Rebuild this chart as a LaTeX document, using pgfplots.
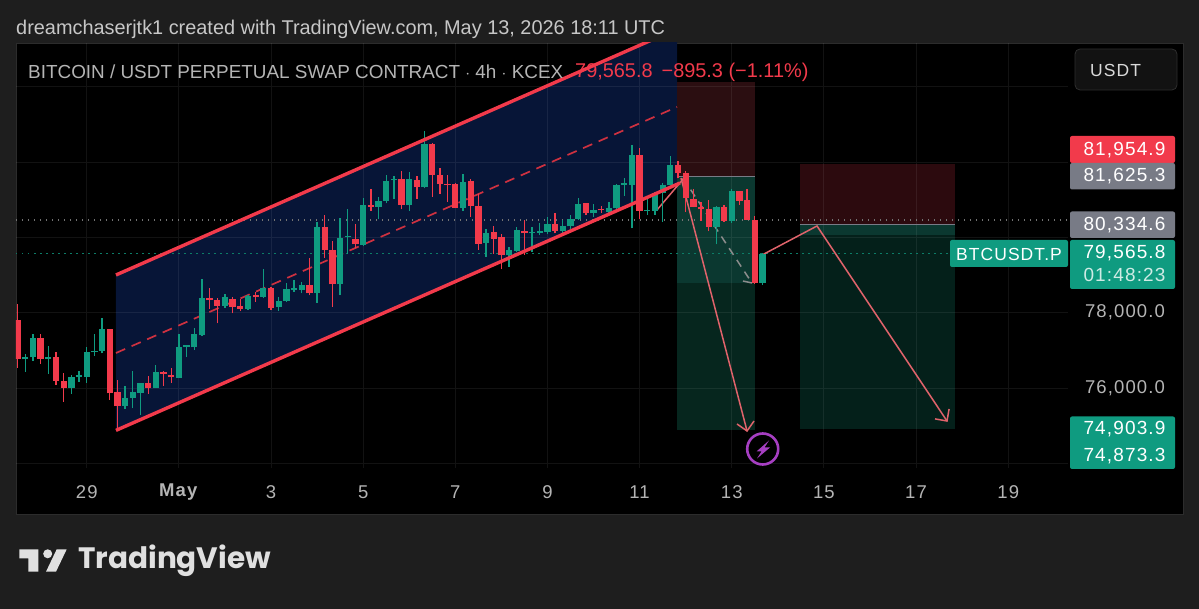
\documentclass[border=0pt]{standalone}
\usepackage{pgfplots}
\usepackage{pgfplotstable}
\usepackage{fontspec}
\pgfplotsset{compat=1.18}
\setmainfont{Liberation Sans}
\newfontfamily\lab[LetterSpace=6]{Liberation Sans}
\newfontfamily\logofont{Poppins}
\definecolor{bg}{HTML}{1E1E1E}
\definecolor{frame}{HTML}{2C2C2C}
\definecolor{gup}{HTML}{0F9B80}
\definecolor{rdn}{HTML}{F23A4B}
\definecolor{chan}{HTML}{071537}
\definecolor{redbox}{HTML}{2B0E11}
\definecolor{redboxb}{HTML}{2C0A0E}
\definecolor{grnhi}{HTML}{0B3830}
\definecolor{grnlo}{HTML}{06261E}
\definecolor{grnlob}{HTML}{04201A}
\definecolor{salmon}{HTML}{E0636B}
\definecolor{plabel}{HTML}{787B86}
\definecolor{txt}{HTML}{B4B4B4}
\definecolor{purp}{HTML}{A63FC2}
\pgfplotstableread{
k l b t h
1 76425 76761 76832 76903
2 76726 76814 77337 77425
4 76372 76770 76823 77107
7 75840 75999 76292 76336
8 76159 76283 76336 76451
9 76141 76292 76956 77098
10 76850 76947 76991 77434
11 76921 76991 77558 77868
14 75442 75521 75734 76053
15 75459 75734 75884 76442
16 75282 75875 76123 76141
18 75999 76008 76434 76611
21 76265 76265 77080 77425
22 76832 77080 77133 77142
23 77009 77080 77434 77585
24 77381 77408 78391 78887
27 78125 78178 78409 78497
30 78072 78099 78453 78471
32 78382 78426 78665 79153
34 78054 78161 78320 78409
35 78293 78311 78621 78798
36 78559 78603 78648 78869
37 78515 78603 78727 78825
39 78258 78514 80286 80419
42 78470 78754 79985 80525
43 79559 80002 80038 80755
45 79772 79807 80853 81047
47 80481 80817 80968 81065
48 80906 80968 81490 81659
49 81012 81517 81561 81632
51 80711 80853 81543 81747
53 81304 81331 82491 82828
58 80711 80791 81481 81685
61 79489 79861 80109 80233
64 79223 79542 79666 79745
65 79622 79648 80188 80286
67 79622 80109 80144 80286
68 80064 80126 80170 80374
69 80091 80144 80347 80533
71 80091 80170 80312 80463
72 80215 80294 80489 80595
73 80463 80480 80897 81047
75 80551 80640 80737 80879
77 80640 80684 80781 80950
78 80755 80773 81393 81410
79 81109 81393 81437 81570
80 80241 81393 82190 82455
82 80604 80693 80728 81012
83 80604 80702 81171 81207
84 80418 81171 81401 81437
85 81393 81393 81924 82163
91 79816 80285 80799 80835
93 80392 80445 81233 81277
97 78735 78780 79566 79577
}\upc
\pgfplotstableread{
k l b t h
0 76531 76761 77806 78231
3 76637 76770 77337 77443
5 76088 76185 76832 76956
6 75627 76008 76185 76389
12 75681 75858 77558 77558
13 74928 75512 75884 76212
17 75840 76008 76123 76318
19 76053 76380 76434 76460
20 76141 76283 76345 76522
25 78107 78329 78391 78648
26 77718 78178 78338 78382
28 77983 78152 78373 78409
29 78054 78099 78178 78355
31 78285 78409 78471 78559
33 78072 78125 78665 78692
38 78461 78514 78727 79444
40 79462 79666 80286 80605
41 78160 78754 79666 79905
44 79719 79816 79967 80357
46 80711 80817 80861 81287
50 80746 80861 81552 81756
52 81030 81331 81535 81632
54 81083 81659 82491 82518
55 81154 81428 81650 81853
56 80950 81402 81428 81659
57 80791 80791 81411 81437
59 80543 80835 81490 81561
60 79666 79825 80835 81154
62 79559 79958 80135 80303
63 79152 79542 80002 80091
66 79533 80109 80179 80472
70 80108 80179 80347 80657
74 80595 80640 80905 80923
76 80640 80719 80764 80835
81 80489 80702 82190 82367
86 81570 81703 81924 82039
87 80675 81038 81703 81765
88 80799 80817 81030 81277
89 80445 80746 80817 80950
90 80161 80285 80746 80994
92 80418 80445 80817 80852
94 80870 80976 81224 81242
95 80463 80463 80985 81277
96 78762 78780 80454 80569
}\dnc
\newcommand{\T}[4]{\node[#3,inner sep=0pt] at ({#1pt},{(609-#2)*1pt}) {#4};}
\newcommand{\R}[6]{\fill[#5,rounded corners=#6] ({#1pt},{(609-#2)*1pt}) rectangle ({#3pt},{(609-#4)*1pt});}
\begin{document}
\begin{tikzpicture}
\fill[bg] (0,0) rectangle (1199pt,609pt);
\begin{axis}[
  at={(16pt,95pt)}, anchor=south west,
  width=1167pt, height=471pt, scale only axis,
  xmin=-0.21, xmax=151.76, ymin=72651, ymax=85166,
  axis background/.style={fill=black},
  axis line style={draw=frame, line width=0.8pt},
  tick style={draw=none},
  xtick={9,21,33,45,57,69,81,93,105,117,129},
  xticklabels={29,\textbf{May},3,5,7,9,11,13,15,17,19},
  xticklabel style={anchor=center, yshift=22pt, font=\fontsize{18.5}{20}\lab, text=txt},
  ytick={76000,78000},
  yticklabel pos=right,
  yticklabel style={anchor=center, xshift=-58pt, font=\fontsize{18.5}{20}\lab, text=txt,
    /pgf/number format/.cd, fixed, fixed zerofill, precision=1, 1000 sep={,}, assume math mode=true},
  scaled y ticks=false,
  unbounded coords=jump,
]
% channel and position boxes
\addplot[draw=none, fill=chan, forget plot] coordinates {(12.81,79002)(85.87,85540)(85.87,81393)(12.81,74873)} -- cycle;
\addplot[draw=none, fill=redbox, forget plot] coordinates {(85.87,84130)(96.03,84130)(96.03,81625.3)(85.87,81625.3)} -- cycle;
\addplot[draw=none, fill=grnhi, forget plot] coordinates {(85.87,81625.3)(96.03,81625.3)(96.03,78789)(85.87,78789)} -- cycle;
\addplot[draw=none, fill=grnlo, forget plot] coordinates {(85.87,78789)(96.03,78789)(96.03,74873.3)(85.87,74873.3)} -- cycle;
\addplot[draw=none, fill=redboxb, forget plot] coordinates {(101.9,81954.9)(122.07,81954.9)(122.07,80334.6)(101.9,80334.6)} -- cycle;
\addplot[draw=none, fill=grnhi, forget plot] coordinates {(101.9,80334.6)(122.07,80334.6)(122.07,80064)(101.9,80064)} -- cycle;
\addplot[draw=none, fill=grnlob, forget plot] coordinates {(101.9,80064)(122.07,80064)(122.07,74903.9)(101.9,74903.9)} -- cycle;
% grid
\addplot[white, opacity=0.07, line width=0.9pt, forget plot] coordinates {
(-0.21,74000)(136.8,74000)(nan,nan)(-0.21,76000)(136.8,76000)(nan,nan)(-0.21,78000)(136.8,78000)(nan,nan)
(-0.21,80000)(136.8,80000)(nan,nan)(-0.21,82000)(136.8,82000)(nan,nan)(-0.21,84000)(136.8,84000)(nan,nan)
(9,85166)(9,73874)(nan,nan)(21,85166)(21,73874)(nan,nan)(33,85166)(33,73874)(nan,nan)(45,85166)(45,73874)(nan,nan)
(57,85166)(57,73874)(nan,nan)(69,85166)(69,73874)(nan,nan)(81,85166)(81,73874)(nan,nan)(93,85166)(93,73874)(nan,nan)
(105,85166)(105,73874)(nan,nan)(117,85166)(117,73874)(nan,nan)(129,85166)(129,73874)};
% box lines
\addplot[plabel, line width=1.3pt, forget plot] coordinates {(85.87,81625.3)(96.03,81625.3)};
\addplot[plabel, line width=1.3pt, forget plot] coordinates {(101.9,80334.6)(122.07,80334.6)};
% dotted price lines
\addplot[white!45!black, line width=1.3pt, dash pattern=on 1.4pt off 4.6pt, forget plot] coordinates {(-0.21,80463)(136.8,80463)};
\addplot[gup!80!black, line width=1.3pt, dash pattern=on 1.5pt off 4.5pt, forget plot] coordinates {(-0.21,79565.8)(136.8,79565.8)};
% channel mid line
\addplot[rdn!85!black, line width=1.7pt, dash pattern=on 10pt off 7pt, forget plot] coordinates {(12.81,76929)(85.87,83466)};
% thin drawings
\addplot[salmon, line width=1.5pt, forget plot] coordinates {(86.39,81579)(94.99,74857)};
\addplot[salmon, line width=1.5pt, forget plot] coordinates {(93.68,75043)(94.99,74857)(95.9,75122)};
\addplot[salmon, line width=1.5pt, forget plot] coordinates {(83.26,80729)(86.9,81606)};
\addplot[salmon, line width=1.5pt, forget plot] coordinates {(96.95,79533)(104.1,80304)(121.03,75122)};
\addplot[salmon, line width=1.5pt, forget plot] coordinates {(119.47,75178)(121.03,75122)(121.3,75442)};
\addplot[white!55!black, line width=1.5pt, dash pattern=on 8pt off 6pt, forget plot] coordinates {(86.65,81579)(95.63,78789)};
\addplot[white!55!black, line width=1.5pt, forget plot] coordinates {(94.46,78842)(95.63,78789)};
% candles
\addplot[draw=none, mark=none, forget plot, error bars/.cd, y dir=plus, y explicit, error mark=none,
  error bar style={gup, line width=1.3pt}] table[x=k, y=l, y error expr=\thisrow{h}-\thisrow{l}] {\upc};
\addplot[draw=none, mark=none, forget plot, error bars/.cd, y dir=plus, y explicit, error mark=none,
  error bar style={gup, line width=6.3pt}] table[x=k, y=b, y error expr=\thisrow{t}-\thisrow{b}] {\upc};
\addplot[draw=none, mark=none, forget plot, error bars/.cd, y dir=plus, y explicit, error mark=none,
  error bar style={rdn, line width=1.3pt}] table[x=k, y=l, y error expr=\thisrow{h}-\thisrow{l}] {\dnc};
\addplot[draw=none, mark=none, forget plot, error bars/.cd, y dir=plus, y explicit, error mark=none,
  error bar style={rdn, line width=6.3pt}] table[x=k, y=b, y error expr=\thisrow{t}-\thisrow{b}] {\dnc};
% channel borders
\addplot[rdn, line width=3.4pt, forget plot] coordinates {(12.81,79002)(85.87,85540)};
\addplot[rdn, line width=3.4pt, forget plot] coordinates {(12.81,74873)(86.26,81446)};
% flash icon ring
\addplot[only marks, mark=*, mark size=15.5pt, mark options={fill=black, draw=purp, line width=2.6pt}, forget plot] coordinates {(97.03,74378)};
\end{axis}
% flash icon bolt
\fill[purp] (769pt,{(609-440.5)*1pt}) -- (756.5pt,{(609-451.5)*1pt}) -- (761.5pt,{(609-451.5)*1pt}) -- (757pt,{(609-458.5)*1pt}) -- (770pt,{(609-447.5)*1pt}) -- (764.5pt,{(609-447.5)*1pt}) -- cycle;
% header
\T{16}{29}{anchor=west,text=white!78!black}{\fontsize{19.9}{22}\selectfont dreamchaserjtk1 created with TradingView.com, May 13, 2026 18:11 UTC}
\T{28}{72}{anchor=west,text=txt}{\fontsize{18.9}{21}\selectfont BITCOIN / USDT PERPETUAL SWAP CONTRACT $\cdot$ 4h $\cdot$ KCEX}
\T{575}{72}{anchor=west,text=rdn}{\fontsize{19.9}{21}\selectfont 79,565.8\hspace{9pt}\textminus895.3 (\textminus1.11\%)}
% USDT box
\draw[draw=white!18!black, fill=white!7!black, rounded corners=5pt, line width=0.8pt] (1075pt,{(609-49)*1pt}) rectangle (1177pt,{(609-90)*1pt});
\T{1090}{70}{anchor=west,text=white!85!black}{\fontsize{17.5}{20}\lab USDT}
% price labels
\R{1070}{136}{1175}{163}{rdn}{2pt}
\T{1124.5}{150}{text=white}{\fontsize{19}{20}\lab 81,954.9}
\R{1070}{163}{1175}{189.5}{plabel}{2pt}
\T{1124.5}{176}{text=white}{\fontsize{19}{20}\lab 81,625.3}
\R{1070}{211.5}{1175}{238}{plabel}{2pt}
\T{1124.5}{225}{text=white}{\fontsize{19}{20}\lab 80,334.6}
\R{1070}{240}{1175}{289}{gup}{2pt}
\T{1124.5}{253}{text=white}{\fontsize{19}{20}\lab 79,565.8}
\T{1124.5}{275}{text=white!80!gup}{\fontsize{19}{20}\lab 01:48:23}
\R{950}{240}{1068}{267}{gup}{2pt}
\T{1009}{254}{text=white}{\fontsize{17.5}{20}\lab BTCUSDT.P}
\R{1070}{416.5}{1175}{469}{gup}{2pt}
\T{1124.5}{429}{text=white}{\fontsize{19}{20}\lab 74,903.9}
\T{1124.5}{456}{text=white}{\fontsize{19}{20}\lab 74,873.3}
% logo
\fill[white!88!black] (19.3pt,{(609-549.3)*1pt}) -- (38.3pt,{(609-549.3)*1pt}) -- (38.3pt,{(609-571.7)*1pt}) -- (28.3pt,{(609-571.7)*1pt}) -- (28.3pt,{(609-558.3)*1pt}) -- (19.3pt,{(609-558.3)*1pt}) -- cycle;
\fill[white!88!black] (47.7pt,{(609-553.8)*1pt}) circle (4.5pt);
\fill[white!88!black] (56.7pt,{(609-549.3)*1pt}) -- (66.7pt,{(609-549.3)*1pt}) -- (56pt,{(609-571.7)*1pt}) -- (46pt,{(609-571.7)*1pt}) -- cycle;
\T{78}{561}{anchor=west,text=white!88!black}{\fontsize{29.5}{32}\logofont\bfseries TradingView}
\end{tikzpicture}
\end{document}
